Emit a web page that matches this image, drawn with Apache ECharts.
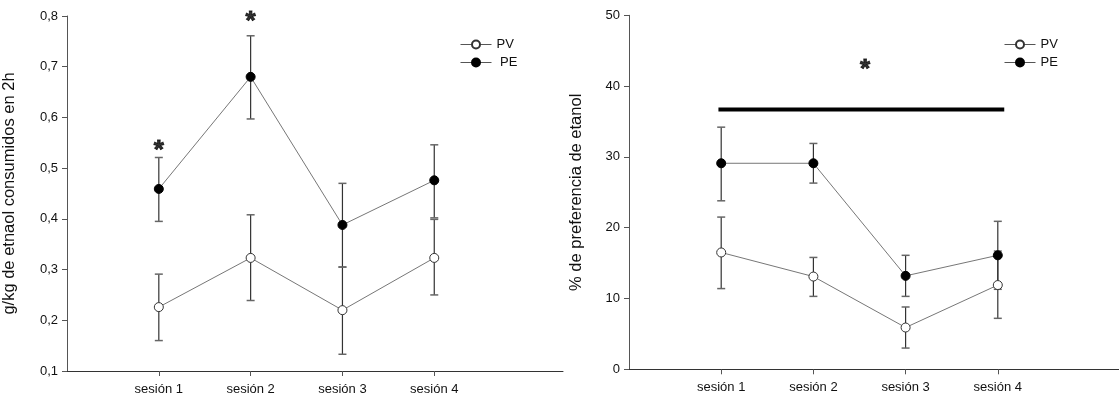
<!DOCTYPE html>
<html>
<head>
<meta charset="utf-8">
<script src="https://cdn.jsdelivr.net/npm/echarts@6/dist/echarts.min.js"></script>
<style>
html,body{margin:0;padding:0;background:#fff;}
#chart{width:1119px;height:401px;}
</style>
</head>
<body>
<div id="chart"></div>
<script>
// ---- data ----
const sessions = ['sesión 1', 'sesión 2', 'sesión 3', 'sesión 4'];
const sessionPos = [1, 2, 3, 4];

// left panel: g/kg de etanol consumidos en 2h
const leftPV   = [0.226, 0.323, 0.220, 0.323];
const leftPVHi = [0.291, 0.408, 0.305, 0.399];
const leftPVLo = [0.160, 0.239, 0.133, 0.250];
const leftPE   = [0.459, 0.680, 0.388, 0.476];
const leftPEHi = [0.521, 0.761, 0.470, 0.546];
const leftPELo = [0.395, 0.597, 0.305, 0.402];
const leftStars = [[1, 0.546], [2, 0.80]];

// right panel: % de preferencia de etanol
const rightPV   = [16.5, 13.1, 5.9, 11.9];
const rightPVHi = [21.5, 15.8, 8.8, 16.7];
const rightPVLo = [11.4, 10.3, 3.0, 7.2];
const rightPE   = [29.1, 29.1, 13.2, 16.1];
const rightPEHi = [34.2, 31.9, 16.1, 20.9];
const rightPELo = [23.8, 26.3, 10.3, 11.3];
const rightBar  = [[0.97, 36.7], [4.07, 36.7]];
const rightStars = [[2.56, 43.1]];

const leftYTicks = [0.1, 0.2, 0.3, 0.4, 0.5, 0.6, 0.7, 0.8];
const rightYTicks = [0, 10, 20, 30, 40, 50];

// ---- helpers ----
const FONT = 'Liberation Sans, Arial, sans-serif';
const pairs = (xs, ys) => xs.map((x, i) => [x, ys[i]]);
const triples = (xs, lo, hi) => xs.map((x, i) => [x, lo[i], hi[i]]);

function errRender(params, api) {
  const x = api.value(0);
  const lo = api.coord([x, api.value(1)]);
  const hi = api.coord([x, api.value(2)]);
  const w = 4;
  const st = { stroke: '#333', lineWidth: 1.2 };
  const cap = { stroke: '#666', lineWidth: 1.5 };
  return {
    type: 'group',
    children: [
      { type: 'line', shape: { x1: lo[0], y1: lo[1], x2: hi[0], y2: hi[1] }, style: st },
      { type: 'line', shape: { x1: hi[0] - w, y1: hi[1], x2: hi[0] + w, y2: hi[1] }, style: cap },
      { type: 'line', shape: { x1: lo[0] - w, y1: lo[1], x2: lo[0] + w, y2: lo[1] }, style: cap }
    ]
  };
}

function xAxisFor(gridIndex, max) {
  return {
    type: 'value', gridIndex, min: 0, max: max,
    axisLine: { show: true, lineStyle: { color: '#333', width: 1 } },
    splitLine: { show: false },
    axisTick: { show: true, length: 5, customValues: sessionPos, lineStyle: { color: '#555' } },
    axisLabel: {
      customValues: sessionPos, margin: 12,
      formatter: v => sessions[sessionPos.indexOf(v)] || '',
      color: '#111', fontFamily: FONT, fontSize: 13
    }
  };
}

function yAxisFor(gridIndex, ticks, name, gap, fmt) {
  return {
    type: 'value', gridIndex,
    min: ticks[0], max: ticks[ticks.length - 1], interval: ticks[1] - ticks[0],
    name: name, nameLocation: 'middle', nameGap: gap,
    nameTextStyle: { fontFamily: FONT, fontSize: 16.5, color: '#111' },
    axisLine: { show: true, lineStyle: { color: '#555', width: 1 } },
    splitLine: { show: false },
    axisTick: { show: true, length: 5, inside: false, lineStyle: { color: '#555' } },
    axisLabel: { margin: 9, formatter: fmt, color: '#111', fontFamily: FONT, fontSize: 13 }
  };
}

function lineSeries(name, data, xi, filled) {
  return {
    type: 'line', name, xAxisIndex: xi, yAxisIndex: xi, data,
    symbol: 'circle', symbolSize: 9, z: 5,
    lineStyle: { color: '#777', width: 1 },
    itemStyle: filled ? { color: '#000', borderColor: '#000', borderWidth: 1 }
                      : { color: '#fff', borderColor: '#333', borderWidth: 1 },
    animation: false
  };
}

function errSeries(name, data, xi) {
  return {
    type: 'custom', name, xAxisIndex: xi, yAxisIndex: xi,
    renderItem: errRender, data, z: 3, animation: false, silent: true
  };
}

function starSeries(data, xi) {
  return {
    type: 'scatter', xAxisIndex: xi, yAxisIndex: xi, data, symbolSize: 0, z: 6,
    silent: true, animation: false,
    label: { show: true, position: 'inside', formatter: '*', fontFamily: FONT,
             fontSize: 26, fontWeight: 'bold', color: '#000',
             textBorderColor: '#000', textBorderWidth: 0.9, offset: [0, 6] }
  };
}

function legendFor(left, fmt) {
  return {
    data: ['PV', 'PE'], orient: 'vertical', left: left, top: 38, padding: 0,
    itemWidth: 31, itemHeight: 10, itemGap: 5, selectedMode: false,
    formatter: fmt,
    lineStyle: { width: 1, color: '#555' },
    textStyle: { fontFamily: FONT, fontSize: 13, color: '#111' }
  };
}

const chart = echarts.init(document.getElementById('chart'), null, { renderer: 'canvas' });
chart.setOption({
  backgroundColor: '#fff',
  animation: false,
  grid: [
    { left: 66, top: 16, width: 497, height: 355 },
    { left: 629, top: 15.3, width: 490, height: 354 }
  ],
  xAxis: [xAxisFor(0, 497 / 92), xAxisFor(1, 490 / 92.2)],
  yAxis: [
    yAxisFor(0, leftYTicks, 'g/kg de etnaol consumidos en 2h', 49, v => v.toFixed(1).replace('.', ',')),
    yAxisFor(1, rightYTicks, '% de preferencia de etanol', 44, v => String(v))
  ],
  legend: [
    legendFor(460, n => n === 'PE' ? ' PE' : n),
    legendFor(1004, n => n)
  ],
  series: [
    errSeries('errPV1', triples(sessionPos, leftPVLo, leftPVHi), 0),
    errSeries('errPE1', triples(sessionPos, leftPELo, leftPEHi), 0),
    lineSeries('PV', pairs(sessionPos, leftPV), 0, false),
    lineSeries('PE', pairs(sessionPos, leftPE), 0, true),
    starSeries(leftStars, 0),

    errSeries('errPV2', triples(sessionPos, rightPVLo, rightPVHi), 1),
    errSeries('errPE2', triples(sessionPos, rightPELo, rightPEHi), 1),
    lineSeries('PV', pairs(sessionPos, rightPV), 1, false),
    lineSeries('PE', pairs(sessionPos, rightPE), 1, true),
    { type: 'line', xAxisIndex: 1, yAxisIndex: 1, data: rightBar, symbol: 'none',
      lineStyle: { color: '#000', width: 4 }, z: 4, silent: true, animation: false },
    starSeries(rightStars, 1)
  ]
});
</script>
</body>
</html>
